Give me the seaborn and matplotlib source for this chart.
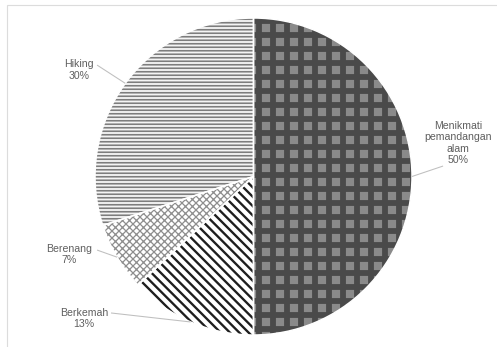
import matplotlib
matplotlib.use("Agg")
import matplotlib.pyplot as plt
import matplotlib.patches as mpatches
import numpy as np
import seaborn as sns

# Activity shares (percent), drawn clockwise from 12 o'clock
categories = ["Menikmati\npemandangan\nalam", "Berkemah", "Berenang", "Hiking"]
shares = [50, 13, 7, 30]

# Fill styles per slice
face_colors = ["#8a8a8a", "#ffffff", "#ffffff", "#f4f4f4"]
hatch_colors = ["#4a4a4a", "#1e1e1e", "#8e8e8e", "#7d7d7d"]
hatches = ["+", "\\\\\\", "xxxx", "----"]
hatch_widths = [5.0, 2.0, 1.1, 1.4]

# Label anchors (data units, pie radius = 1) and leader-line start points
label_xy = [(1.290, 0.211), (-1.069, -0.896), (-1.164, -0.492), (-1.101, 0.672)]
leader_xy = [(1.196, 0.066), (-0.899, -0.861), (-0.987, -0.464), (-0.987, 0.703)]

sns.set_theme(style="white")
plt.rcParams["font.family"] = ["Liberation Sans", "DejaVu Sans"]

DPI = 84
W, H = 497, 347
fig = plt.figure(figsize=(W / DPI, H / DPI), dpi=DPI)

# light outer chart frame
fig.add_artist(mpatches.Rectangle((7 / W, -0.1), 1.2, 1.1 - 5 / H,
                                  transform=fig.transFigure, fill=False,
                                  edgecolor="#dcdcdc", linewidth=1.0))

cx, cy, r = 253.5, 176.5, 158.5
ax = fig.add_axes([(cx - r) / W, (H - cy - r) / H, 2 * r / W, 2 * r / H])

wedges, _ = ax.pie(shares, startangle=90, counterclock=False, radius=1,
                   colors=face_colors, wedgeprops=dict(linewidth=0))
for w, hc, ht, hw in zip(wedges, hatch_colors, hatches, hatch_widths):
    w.set_hatch(ht)
    w.set_edgecolor(hc)
    w.set_linewidth(0)
    if hasattr(w, "set_hatch_linewidth"):
        w.set_hatch_linewidth(hw)
    w.set_clip_on(False)

# white separators between slices
ax.pie(shares, startangle=90, counterclock=False, radius=1,
       colors=["none"] * len(shares),
       wedgeprops=dict(linewidth=1.3, edgecolor="white", fill=False))

ax.set_xlim(-1, 1)
ax.set_ylim(-1, 1)
ax.set_aspect("equal")
ax.axis("off")

text_color = "#5f5f5f"
for w, lab, val, (tx, ty), (lx, ly) in zip(wedges, categories, shares, label_xy, leader_xy):
    mid = np.deg2rad((w.theta1 + w.theta2) / 2)
    ex, ey = np.cos(mid) * w.r, np.sin(mid) * w.r
    ax.plot([lx, ex], [ly, ey], color="#bfbfbf", linewidth=0.9,
            clip_on=False, solid_capstyle="butt")
    ax.text(tx, ty, f"{lab}\n{val}%", ha="center", va="center",
            fontsize=9, color=text_color, linespacing=1.15, clip_on=False)

fig.savefig("out.png", dpi=DPI, facecolor="white")
